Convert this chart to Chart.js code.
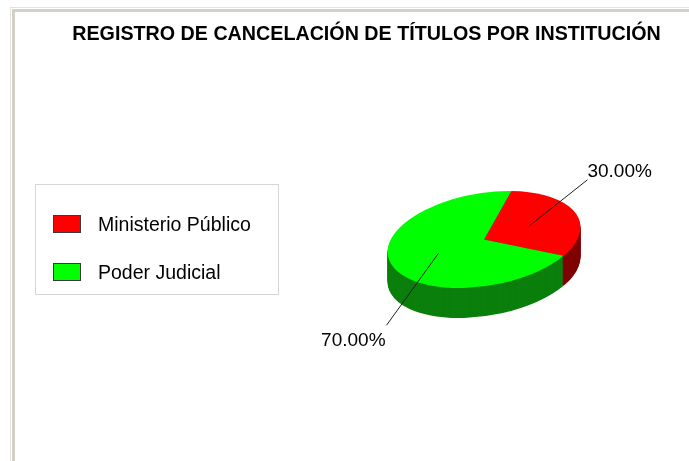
<!DOCTYPE html>
<html>
<head>
<meta charset="utf-8">
<script src="https://cdn.jsdelivr.net/npm/chart.js@4.4.0/dist/chart.umd.min.js"></script>
<style>
  html, body { margin: 0; padding: 0; background: #fff; }
  #wrap { position: relative; width: 689px; height: 461px; overflow: hidden; }
  .frame1 { position: absolute; left: 10px; top: 7px; right: -10px; bottom: -10px;
            border-left: 1px solid #e6e3dd; border-top: 1px solid #e6e3dd; }
  .frame2 { position: absolute; left: 12px; top: 9px; right: -10px; bottom: -10px;
            border-left: 3px solid #d4d0c8; border-top: 3px solid #d4d0c8; }
  canvas { position: absolute; left: 0; top: 0; }
</style>
</head>
<body>
<div id="wrap">
  <div class="frame1"></div>
  <div class="frame2"></div>
  <canvas id="chart" width="689" height="461"></canvas>
</div>
<script>
  var chartTitle = 'REGISTRO DE CANCELACIÓN DE TÍTULOS POR INSTITUCIÓN';
  var categories = ['Ministerio Público', 'Poder Judicial'];
  var values = [30, 70];
  var valueLabels = ['30.00%', '70.00%'];
  var topColors = ['#ff0000', '#00ff00'];
  var sideColors = ['#7f0000', '#0b7f0b'];

  var FONT = '"Liberation Sans", Arial, sans-serif';

  // screen position of a point given in the flat pie, after tilt/squash
  function project(cx, cy, x, y, o) {
    var dx = x - cx, dy = (y - cy) * o.squash;
    var c = Math.cos(o.tilt), s = Math.sin(o.tilt);
    return { x: cx + dx * c - dy * s, y: cy + dx * s + dy * c };
  }

  var pie3d = {
    id: 'pie3d',
    beforeDatasetsDraw: function(chart, args, opts) {
      var ctx = chart.ctx;
      var arcs = chart.getDatasetMeta(0).data;
      for (var d = opts.depth; d >= 0; d--) {
        arcs.forEach(function(arc, i) {
          var p = arc.getProps(['x', 'y', 'startAngle', 'endAngle', 'outerRadius'], true);
          ctx.save();
          ctx.translate(p.x, p.y + d);
          ctx.rotate(opts.tilt);
          ctx.scale(1, opts.squash);
          ctx.beginPath();
          ctx.moveTo(0, 0);
          ctx.arc(0, 0, p.outerRadius, p.startAngle, p.endAngle);
          ctx.closePath();
          ctx.fillStyle = d > 0 ? sideColors[i] : topColors[i];
          ctx.fill();
          ctx.restore();
        });
      }
      return false;
    },
    // labels go here: returning false above skips afterDatasetsDraw
    afterDraw: function(chart, args, opts) {
      var ctx = chart.ctx;
      var arcs = chart.getDatasetMeta(0).data;
      ctx.save();
      ctx.font = opts.labelFont;
      ctx.strokeStyle = '#202020';
      ctx.lineWidth = 1;
      ctx.fillStyle = '#000';
      arcs.forEach(function(arc, i) {
        var p = arc.getProps(['x', 'y', 'startAngle', 'endAngle', 'outerRadius'], true);
        var mid = (p.startAngle + p.endAngle) / 2;
        var r = p.outerRadius * 0.5;
        var a = project(p.x, p.y, p.x + Math.cos(mid) * r, p.y + Math.sin(mid) * r, opts);
        var off = opts.leaders[i];
        var e = { x: a.x + off[0], y: a.y + off[1] };
        ctx.beginPath();
        ctx.moveTo(a.x, a.y);
        ctx.lineTo(e.x, e.y);
        ctx.stroke();
        if (e.x > p.x) {
          ctx.textAlign = 'left';
          ctx.textBaseline = 'bottom';
          ctx.fillText(valueLabels[i], e.x, e.y + 1);
        } else {
          ctx.textAlign = 'right';
          ctx.textBaseline = 'top';
          ctx.fillText(valueLabels[i], e.x - 1, e.y + 6);
        }
      });
      ctx.restore();
    }
  };

  var decorations = {
    id: 'decorations',
    afterDraw: function(chart) {
      var ctx = chart.ctx;
      ctx.save();
      // title
      ctx.font = 'bold 19.7px ' + FONT;
      ctx.fillStyle = '#000';
      ctx.textAlign = 'center';
      ctx.textBaseline = 'middle';
      ctx.fillText(chartTitle, 366.5, 34.5);
      // legend box
      ctx.strokeStyle = '#d6d6d6';
      ctx.lineWidth = 1;
      ctx.strokeRect(35.5, 184.5, 243, 110);
      ctx.font = '19.5px ' + FONT;
      ctx.textAlign = 'left';
      categories.forEach(function(name, i) {
        var yc = 224 + i * 48;
        ctx.fillStyle = topColors[i];
        ctx.fillRect(53, yc - 9, 28, 18);
        ctx.strokeStyle = '#3a3a3a';
        ctx.strokeRect(53.5, yc - 8.5, 27, 17);
        ctx.fillStyle = '#000';
        ctx.fillText(name, 98, yc + 1.5);
      });
      ctx.restore();
    }
  };

  new Chart(document.getElementById('chart'), {
    type: 'pie',
    data: {
      labels: categories,
      datasets: [{
        data: values,
        backgroundColor: topColors,
        borderWidth: 0
      }]
    },
    options: {
      responsive: false,
      animation: false,
      events: [],
      rotation: 21,
      layout: { padding: { left: 386, right: 107, top: 142, bottom: 124 } },
      plugins: {
        legend: { display: false },
        tooltip: { enabled: false },
        title: { display: false },
        pie3d: {
          depth: 30,
          tilt: -9.5 * Math.PI / 180,
          squash: 0.476,
          labelFont: '19px ' + FONT,
          leaders: [[58, -46], [-52, 72]]
        }
      }
    },
    plugins: [pie3d, decorations]
  });
</script>
</body>
</html>
